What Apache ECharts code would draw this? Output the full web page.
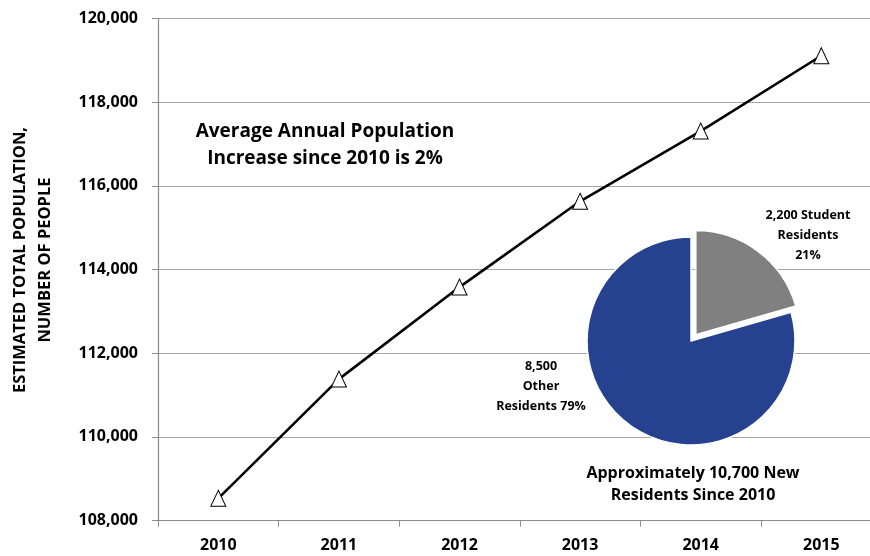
<!DOCTYPE html>
<html>
<head>
<meta charset="utf-8">
<script src="https://cdn.jsdelivr.net/npm/echarts@6/dist/echarts.min.js"></script>
<style>
html,body{margin:0;padding:0;background:#fff;}
#chart{width:870px;height:556px;}
</style>
</head>
<body>
<div id="chart"></div>
<script>
var years = ['2010', '2011', '2012', '2013', '2014', '2015'];
var population = [108530, 111380, 113580, 115630, 117310, 119110];
var yTicks = [108000, 110000, 112000, 114000, 116000, 118000, 120000];
var pieNames = ['Student Residents', 'Other Residents'];
var pieValues = [2200, 8500];
var pieLabels = ['2,200 Student\nResidents\n21%', '8,500\nOther\nResidents 79%'];
var annotation = 'Average Annual Population\nIncrease since 2010 is 2%';
var pieCaption = 'Approximately 10,700 New\nResidents Since 2010';
var yAxisTitle = 'ESTIMATED TOTAL POPULATION,\nNUMBER OF PEOPLE';

var FONT = 'Open Sans';
var chart = echarts.init(document.getElementById('chart'), null, {renderer: 'canvas'});

function fmt(v) { return String(v).replace(/\B(?=(\d{3})+(?!\d))/g, ','); }

var option = {
  animation: false,
  backgroundColor: '#ffffff',
  grid: {left: 158, top: 18.5, height: 502, width: 723.6, containLabel: false, outerBoundsMode: 'none'},
  xAxis: {
    type: 'category',
    data: years,
    boundaryGap: true,
    axisLine: {lineStyle: {color: '#8c8c8c', width: 1.2}},
    axisTick: {show: true, length: 6, lineStyle: {color: '#8c8c8c'}},
    axisLabel: {fontFamily: FONT, fontWeight: 'bold', fontSize: 16, color: '#000', margin: 17}
  },
  yAxis: {
    type: 'value',
    min: yTicks[0],
    max: yTicks[yTicks.length - 1],
    interval: 2000,
    axisLine: {show: true, lineStyle: {color: '#8c8c8c', width: 1.2}},
    axisTick: {show: true, length: 6, lineStyle: {color: '#8c8c8c'}},
    splitLine: {show: true, lineStyle: {color: '#a6a6a6', width: 1.2}},
    axisLabel: {fontFamily: FONT, fontWeight: 'bold', fontSize: 16, color: '#000', margin: 20,
      formatter: function (v) { return fmt(v); }}
  },
  series: [
    {
      type: 'line',
      data: population,
      symbol: 'triangle',
      symbolSize: [15, 16],
      lineStyle: {color: '#000', width: 2.6},
      itemStyle: {color: '#fff', borderColor: '#000', borderWidth: 1},
      z: 3
    },
    {
      type: 'pie',
      center: [691, 341],
      radius: [0, 104],
      startAngle: 90,
      clockwise: true,
      selectedMode: 'single',
      selectedOffset: 8,
      label: {show: false},
      labelLine: {show: false},
      emphasis: {disabled: true},
      z: 4,
      data: [
        {name: pieNames[0], value: pieValues[0], selected: true, itemStyle: {color: '#808080', borderColor: '#fff', borderWidth: 1.5}},
        {name: pieNames[1], value: pieValues[1], itemStyle: {color: '#25418F', borderColor: '#fff', borderWidth: 1.5}}
      ]
    }
  ],
  graphic: [
    {type: 'text', x: 32.5, y: 260, rotation: Math.PI / 2, style: {text: yAxisTitle, fontFamily: FONT, fontWeight: 'bold', fontSize: 16.5, lineHeight: 25, fill: '#000', align: 'center', verticalAlign: 'middle'}},
    {type: 'text', x: 325, y: 118, style: {text: annotation, fontFamily: FONT, fontWeight: 'bold', fontSize: 19, lineHeight: 27, fill: '#000', align: 'center', verticalAlign: 'top'}},
    {type: 'text', x: 808, y: 205, style: {text: pieLabels[0], fontFamily: FONT, fontWeight: 'bold', fontSize: 12.5, lineHeight: 20, fill: '#000', align: 'center', verticalAlign: 'top'}},
    {type: 'text', x: 541, y: 356, style: {text: pieLabels[1], fontFamily: FONT, fontWeight: 'bold', fontSize: 12.5, lineHeight: 20, fill: '#000', align: 'center', verticalAlign: 'top'}},
    {type: 'text', x: 693, y: 462, style: {text: pieCaption, fontFamily: FONT, fontWeight: 'bold', fontSize: 16, lineHeight: 22, fill: '#000', align: 'center', verticalAlign: 'top'}}
  ]
};
chart.setOption(option);
</script>
</body>
</html>
